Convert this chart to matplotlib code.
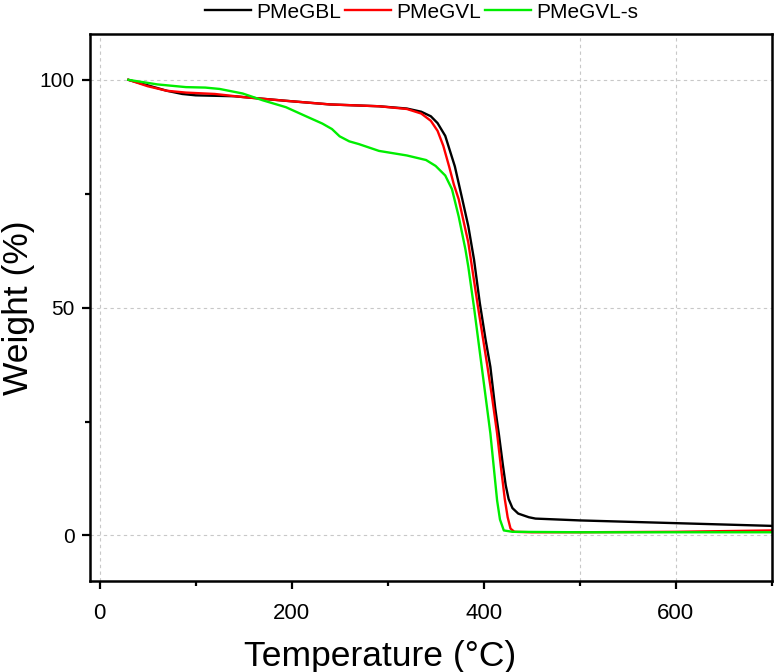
import numpy as np
import matplotlib
matplotlib.use('Agg')
import matplotlib.pyplot as plt
from matplotlib.ticker import MultipleLocator

plt.rcParams['font.family'] = ['Liberation Sans', 'DejaVu Sans']

# PMeGBL
t_gbl = [30, 50, 70, 86, 100, 140, 194, 240, 291, 320, 335, 345, 352, 360, 370, 377, 384,
         390, 396, 402, 407, 412, 416, 420, 423, 426, 430, 436, 447, 454, 500, 600, 700]
w_gbl = [100, 98.8, 97.6, 96.9, 96.6, 96.4, 95.4, 94.6, 94.2, 93.7, 93.0, 92.0, 90.5, 87.7, 81.0, 74.5, 67.9,
         60.5, 51, 43, 37, 28, 22, 15.5, 11, 8, 6, 4.8, 4, 3.7, 3.3, 2.7, 2.1]

# PMeGVL
t_gvl = [30, 50, 70, 90, 120, 150, 194, 240, 291, 320, 335, 345, 352, 358, 364, 369, 374,
         384, 394, 404, 409, 414, 418, 422, 425, 428, 432, 450, 500, 600, 700]
w_gvl = [100, 98.6, 97.6, 97.2, 96.9, 96.2, 95.4, 94.6, 94.2, 93.6, 92.6, 91.0, 88.8, 85.5, 81, 77, 73.8,
         64.3, 50.3, 37, 30, 22.4, 15, 8, 4, 1.5, 0.8, 0.7, 0.7, 0.8, 1.1]

# PMeGVL-s
t_gvls = [30, 60, 90, 110, 125, 149, 170, 194, 215, 232, 242, 250, 260, 270, 291, 320, 340, 350,
          360, 367, 374, 381, 384, 390, 398, 407, 411, 414, 417, 421, 430, 500, 600, 700]
w_gvls = [100, 99, 98.4, 98.3, 98, 97, 95.5, 94, 92, 90.4, 89.2, 87.6, 86.5, 85.9, 84.4, 83.4, 82.4, 81.1,
          79, 76, 70, 62.8, 59, 50, 37, 22.4, 14, 7.7, 3.5, 1.1, 0.8, 0.7, 0.7, 0.7]

labels = ['PMeGBL', 'PMeGVL', 'PMeGVL-s']
colors = ['black', '#ff0000', '#00ee00']

grid_x = [0, 500, 600]
grid_y = [0, 50, 100]

fig = plt.figure(figsize=(7.74, 6.72), dpi=100)
ax = fig.add_axes([0.1163, 0.1354, 0.8807, 0.8136])

for v in grid_x:
    ax.axvline(v, color='#c8c8c8', lw=0.8, ls=(0, (3, 3)), zorder=0)
for v in grid_y:
    ax.axhline(v, color='#c8c8c8', lw=0.8, ls=(0, (3, 3)), zorder=0)

ax.plot(t_gbl, w_gbl, color=colors[0], lw=1.7, label=labels[0])
ax.plot(t_gvl, w_gvl, color=colors[1], lw=1.7, label=labels[1])
ax.plot(t_gvls, w_gvls, color=colors[2], lw=1.7, label=labels[2])

ax.set_xlim(-10, 700)
ax.set_ylim(-10, 110)
ax.xaxis.set_major_locator(MultipleLocator(200))
ax.xaxis.set_minor_locator(MultipleLocator(100))
ax.yaxis.set_major_locator(MultipleLocator(50))
ax.yaxis.set_minor_locator(MultipleLocator(25))

ax.tick_params(which='major', direction='out', length=6, width=1.6, labelsize=15, pad=5)
ax.tick_params(axis='x', which='major', labelsize=16, pad=10)
ax.tick_params(which='minor', direction='out', length=3.5, width=1.6)
for s in ax.spines.values():
    s.set_linewidth(1.8)

ax.set_xlabel('Temperature (°C)', fontsize=25.5)
ax.xaxis.set_label_coords(0.425, -0.108)
ax.set_ylabel('Weight (%)', fontsize=25.5, labelpad=3)

fig.legend(loc='center', bbox_to_anchor=(0.545, 0.982), ncol=3, frameon=False,
           fontsize=15, handlelength=2.2, handletextpad=0.25, columnspacing=0.2)

plt.savefig('out.png', dpi=100)
